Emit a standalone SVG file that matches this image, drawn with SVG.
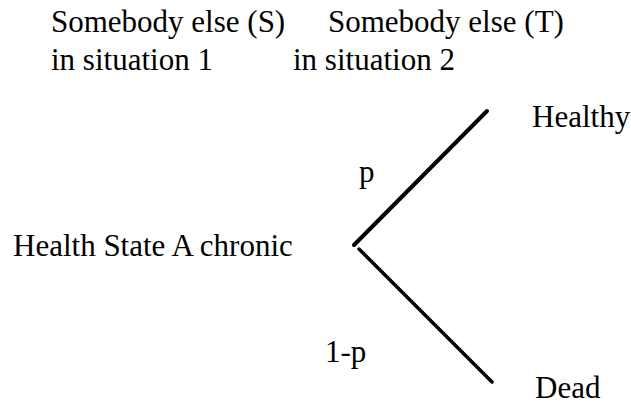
<svg xmlns="http://www.w3.org/2000/svg" width="631" height="411" viewBox="0 0 631 411">
<style>
text{font-family:"Liberation Serif","Times New Roman",serif;font-size:31px;fill:#000}
.ln{stroke:#000;fill:none;stroke-linecap:round}
</style>
<rect width="631" height="411" fill="#fff"/>
<g id="header-s"><text x="51" y="32">Somebody else (S)</text><text x="51" y="70">in situation 1</text></g>
<g id="header-t"><text x="328" y="32">Somebody else (T)</text><text x="293" y="70">in situation 2</text></g>
<g id="root"><text x="13" y="256">Health State A chronic</text></g>
<g id="healthy"><text x="532" y="127">Healthy</text></g>
<g id="dead"><text x="535" y="398">Dead</text></g>
<g id="connectors">
<line class="ln" stroke-width="4" x1="354" y1="245" x2="487" y2="111"/>
<line class="ln" stroke-width="3.5" x1="359" y1="249" x2="492" y2="382"/>
<text x="359" y="182">p</text>
<text x="325" y="362">1-p</text>
</g>
</svg>
